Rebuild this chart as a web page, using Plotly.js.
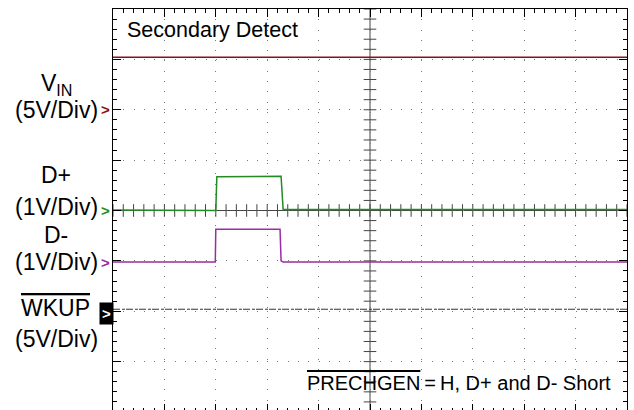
<!DOCTYPE html>
<html>
<head>
<meta charset="utf-8">
<script src="https://cdn.plot.ly/plotly-3.0.1.min.js"></script>
<style>
html,body{margin:0;padding:0;background:#fff;overflow:hidden;}
#chart{width:634px;height:415px;}
</style>
</head>
<body>
<div id="chart"></div>
<script>
// ---- data (time in divisions, voltages in volts) ----
const vinTime = [0, 10];
const vinVolts = [5.2, 5.2];
const dpTime = [0, 1.99, 2.0, 2.02, 3.25, 3.27, 3.31, 10];
const dpVolts = [0.01, 0.0, 0.0, 0.67, 0.69, 0.68, 0.02, 0.02];
const dmTime = [0, 1.99, 2.0, 2.03, 3.25, 3.27, 3.31, 10];
const dmVolts = [-0.02, -0.02, 0.63, 0.63, 0.63, 0.0, -0.02, -0.02];
const wkTime = [0, 10];
const wkVolts = [0.2, 0.2];

// channel scale (V/div) and ground offset (div from centre)
const channels = [
  {name: 'VIN', t: vinTime, v: vinVolts, scale: 5, offset: 2, color: '#8b1111', width: 1.5, dash: 'solid'},
  {name: 'D+', t: dpTime, v: dpVolts, scale: 1, offset: 0, color: '#228b22', width: 1.5, dash: 'solid'},
  {name: 'D-', t: dmTime, v: dmVolts, scale: 1, offset: -1, color: '#992ea3', width: 1.5, dash: 'solid'},
  {name: 'WKUP', t: wkTime, v: wkVolts, scale: 5, offset: -2, color: '#333333', width: 1, dash: '7px,2px,3px,1px'}
];

const traces = [];
// centre graticule tick marks
const hx = [], hy = [], vx = [], vy = [];
for (let k = 0; k <= 50; k++) { hx.push(k * 0.2); hy.push(0); }
for (let k = 0; k <= 40; k++) { vx.push(5); vy.push(-4 + k * 0.2); }
traces.push({x: hx, y: hy, mode: 'markers', hoverinfo: 'skip', showlegend: false,
  marker: {symbol: 'line-ns', size: 9, line: {width: 1, color: '#444'}}});
traces.push({x: vx, y: vy, mode: 'markers', hoverinfo: 'skip', showlegend: false,
  marker: {symbol: 'line-ew', size: 9, line: {width: 1, color: '#444'}}});

channels.forEach(c => {
  traces.push({
    x: c.t, y: c.v.map(v => c.offset + v / c.scale), mode: 'lines', name: c.name,
    showlegend: false, line: {color: c.color, width: c.width, dash: c.dash}
  });
});

const font = 'Liberation Sans, Arial, Helvetica, sans-serif';
const px = p => (p - 113) / 514;
const ann = (text, x, y, size, extra) => Object.assign({
  text: text, xref: 'paper', yref: 'y', x: x, y: y, showarrow: false,
  xanchor: 'center', yanchor: 'middle', font: {family: font, size: size, color: '#000'}
}, extra || {});

const annotations = [
  ann('Secondary Detect', px(125), 3.58, 21.5, {xanchor: 'left'}),
  ann('<span style="text-decoration:overline">PRECHGEN</span>\u2009=\u2009H, D+ and D- Short', px(305), -3.42, 20, {xanchor: 'left'}),
  ann('V<sub>IN</sub>', px(56), 2.5, 23),
  ann('(5V/Div)', px(56), 2.0, 23),
  ann('D+', px(56), 0.70, 23),
  ann('(1V/Div)', px(56), 0.07, 23),
  ann('D-', px(56), -0.49, 23),
  ann('(1V/Div)', px(56), -1.03, 23),
  ann('<span style="text-decoration:overline">WKUP</span>', px(55), -1.94, 23),
  ann('(5V/Div)', px(56), -2.55, 23),
  ann('<b>&gt;</b>', px(105), 2.0, 15, {font: {family: font, size: 15, color: channels[0].color}}),
  ann('<b>&gt;</b>', px(105), 0.0, 15, {font: {family: font, size: 15, color: channels[1].color}}),
  ann('<b>&gt;</b>', px(105), -1.03, 15, {font: {family: font, size: 15, color: channels[2].color}}),
  ann('<b>&gt;</b>', px(106.5), -2.05, 15, {font: {family: font, size: 15, color: '#fff'}, bgcolor: '#000', width: 13, height: 21, borderpad: 0})
];

const axisCommon = {
  showgrid: true, gridcolor: '#7a7a7a', gridwidth: 1, zeroline: false,
  showline: true, linecolor: '#000', linewidth: 1, mirror: 'allticks',
  ticks: 'inside', ticklen: 8, tickcolor: '#000', tickwidth: 1,
  showticklabels: false, fixedrange: true
};

const layout = {
  width: 634, height: 415,
  margin: {l: 113, r: 7, t: 9, b: 3},
  paper_bgcolor: '#fff', plot_bgcolor: '#fff',
  xaxis: Object.assign({}, axisCommon, {range: [0, 10], dtick: 1, tick0: 0, griddash: '1px,9.28px',
    minor: {dtick: 0.2, tick0: 0, ticks: 'inside', ticklen: 4, tickcolor: '#000', showgrid: false}}),
  yaxis: Object.assign({}, axisCommon, {range: [-4, 4], dtick: 1, tick0: 0, griddash: '1px,9.28px',
    minor: {dtick: 0.2, tick0: 0, ticks: 'inside', ticklen: 4, tickcolor: '#000', showgrid: false}}),
  shapes: [
    {type: 'line', xref: 'x', yref: 'paper', x0: 5, x1: 5, y0: 0, y1: 1, line: {color: '#444', width: 1}, layer: 'below'},
    {type: 'line', xref: 'paper', yref: 'y', x0: 0, x1: 1, y0: 0, y1: 0, line: {color: '#444', width: 1}, layer: 'below'}
  ],
  annotations: annotations,
  showlegend: false
};

Plotly.newPlot('chart', traces, layout, {displayModeBar: false, staticPlot: true});
</script>
</body>
</html>
